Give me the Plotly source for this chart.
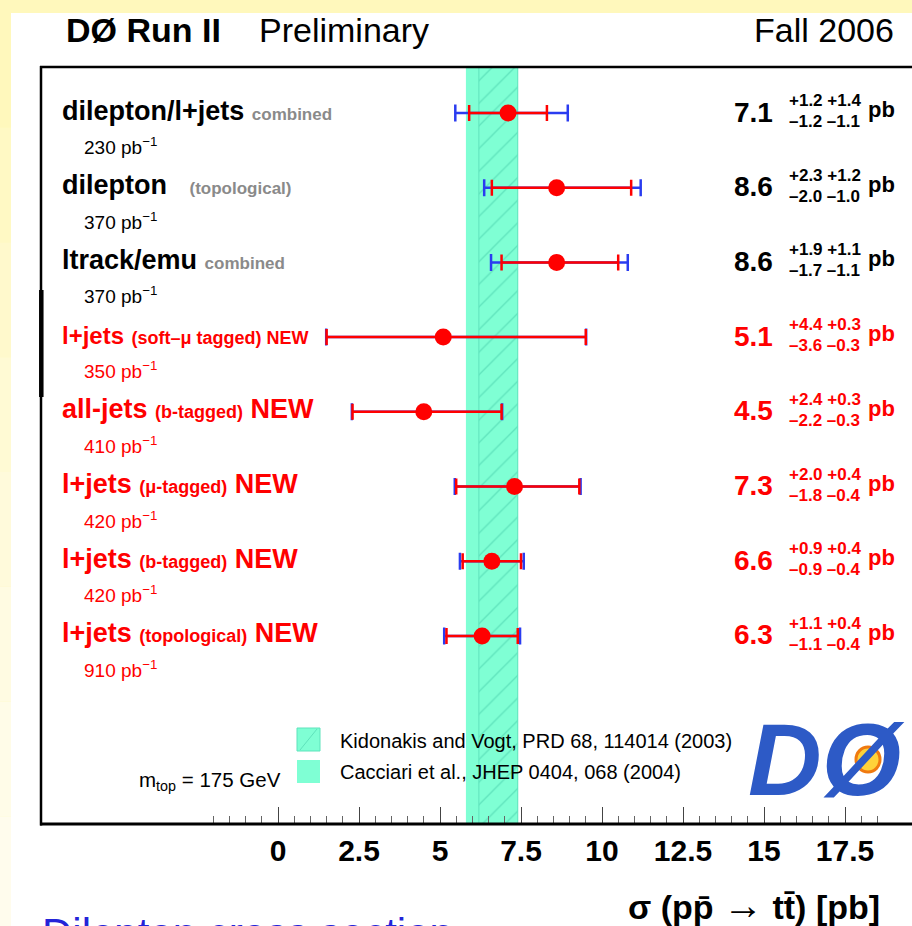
import plotly.graph_objects as go

# ---------------- data ----------------
row_main = ["dilepton/l+jets", "dilepton", "ltrack/emu", "l+jets", "all-jets", "l+jets", "l+jets", "l+jets"]
row_tag = ["combined", "(topological)", "combined", "(soft–μ tagged) NEW", "(b-tagged)", "(μ-tagged)", "(b-tagged)", "(topological)"]
row_new = [False, False, False, False, True, True, True, True]
lumi = [230, 370, 370, 350, 410, 420, 420, 910]
xsec = [7.1, 8.6, 8.6, 5.1, 4.5, 7.3, 6.6, 6.3]
stat_up = [1.2, 2.3, 1.9, 4.4, 2.4, 2.0, 0.9, 1.1]
stat_dn = [1.2, 2.0, 1.7, 3.6, 2.2, 1.8, 0.9, 1.1]
syst_up = [1.4, 1.2, 1.1, 0.3, 0.3, 0.4, 0.4, 0.4]
syst_dn = [1.1, 1.0, 1.1, 0.3, 0.3, 0.4, 0.4, 0.4]

theory_names = ["Kidonakis and Vogt, PRD 68, 114014 (2003)", "Cacciari et al., JHEP 0404, 068 (2004)"]
theory_lo = [6.2, 5.8]
theory_hi = [7.4, 7.4]

tick_vals = [0, 2.5, 5, 7.5, 10, 12.5, 15, 17.5]
tick_text = ["0", "2.5", "5", "7.5", "10", "12.5", "15", "17.5"]
minor_vals = [v * 0.5 for v in range(-4, 38)]

# total uncertainty (stat (+) syst in quadrature)
tot_up = [(a * a + b * b) ** 0.5 for a, b in zip(stat_up, syst_up)]
tot_dn = [(a * a + b * b) ** 0.5 for a, b in zip(stat_dn, syst_dn)]
rows = list(range(len(xsec)))

# ---------------- layout geometry ----------------
W, H = 912, 926
L, T, R, B = 40, 67, 912, 824
FONT = "Liberation Sans, Arial, Helvetica, sans-serif"
AQUA = "#7fffd4"
HATCH = "#5fe3bc"
RED = "#ff0000"
BLUE = "#2a3cf0"

def xp(px):
    return (px - L) / (R - L)

def yp(py):
    return (B - py) / (B - T)

XR = [-(278 - L) / 32.4, (R - 278) / 32.4]
row_px = 74.7
YR = [(B - 113) / row_px, -(113 - T) / row_px]
ycen = (YR[0] + YR[1]) / 2
yspan = YR[0] - YR[1]

fig = go.Figure()

# theory bands (Cacciari solid, Kidonakis hatched on top)
fig.add_trace(go.Bar(
    orientation="h", y=[ycen], width=[yspan],
    base=[theory_lo[1]], x=[theory_hi[1] - theory_lo[1]],
    marker=dict(color=AQUA, line=dict(width=0)),
    showlegend=False, hoverinfo="skip"))
fig.add_trace(go.Bar(
    orientation="h", y=[ycen], width=[yspan],
    base=[theory_lo[0]], x=[theory_hi[0] - theory_lo[0]],
    marker=dict(color=AQUA, line=dict(width=1, color=HATCH),
                pattern=dict(shape="/", fgcolor=HATCH, bgcolor=AQUA,
                             size=16, solidity=0.08, fillmode="replace")),
    showlegend=False, hoverinfo="skip"))

# total error bars (blue)
fig.add_trace(go.Scatter(
    x=xsec, y=rows, mode="markers",
    marker=dict(size=1, color="rgba(0,0,0,0)"),
    error_x=dict(type="data", symmetric=False, array=tot_up, arrayminus=tot_dn,
                 color=BLUE, thickness=2.5, width=8.5),
    showlegend=False, hoverinfo="skip"))
# stat error bars (red) and points
fig.add_trace(go.Scatter(
    x=xsec, y=rows, mode="markers",
    marker=dict(size=17, color=RED, line=dict(width=0)),
    error_x=dict(type="data", symmetric=False, array=stat_up, arrayminus=stat_dn,
                 color=RED, thickness=2.5, width=8),
    showlegend=False, hoverinfo="skip"))

ann = []

def add(text, x, y, xanchor="left", size=18, color="black", yref="paper", yshift=0,
        yanchor="middle"):
    ann.append(dict(text=text, x=x, y=y, xref="paper", yref=yref, xanchor=xanchor,
                    yanchor=yanchor, showarrow=False, yshift=yshift,
                    font=dict(family=FONT, size=size, color=color)))

for i in rows:
    col = "black" if i < 3 else RED
    if i < 3:
        gap = "\u00a0" if i != 1 else "\u00a0\u00a0\u00a0"
        txt = (f"<b>{row_main[i]}</b>{gap}<span style='font-size:17px;color:#8a8a8a'>"
               f"<b>{row_tag[i]}</b></span>")
    elif i == 3:
        txt = (f"<span style='font-size:24px'><b>{row_main[i]}</b></span>\u00a0"
               f"<span style='font-size:18px'><b>{row_tag[i]}</b></span>")
    else:
        txt = (f"<b>{row_main[i]}</b>\u00a0<span style='font-size:18px'><b>{row_tag[i]}</b></span>"
               + ("\u00a0<b>NEW</b>" if row_new[i] else ""))
    add(txt, xp(60), i, size=27, color=col, yref="y", yshift=2.5)
    add(f"{lumi[i]} pb<sup>−1</sup>", xp(82), i, size=19, color=col, yref="y", yshift=-33)
    add(f"<b>{xsec[i]}</b>", xp(775), i, xanchor="right", size=28, color=col, yref="y", yshift=1)
    add(f"<b>+{stat_up[i]} +{syst_up[i]}</b>", xp(787), i, size=17, color=col, yref="y", yshift=12.5)
    add(f"<b>–{stat_dn[i]} –{syst_dn[i]}</b>", xp(787), i, size=17, color=col, yref="y", yshift=-8.5)
    add("<b>pb</b>", xp(866), i, size=22, color=col, yref="y", yshift=3.5)

# header
add("<b>DØ Run II</b>", xp(64), yp(30), size=34)
add("Preliminary", xp(257), yp(30), size=34)
add("Fall 2006", xp(896), yp(30), xanchor="right", size=34)

# legend
add("m<sub>top</sub> = 175 GeV", xp(137), yp(781), size=20.5)
add(theory_names[0], xp(338), yp(741), size=20)
add(theory_names[1], xp(338), yp(772), size=20)

# axis title
add("<b>σ\u00a0(pp̄\u00a0<span style='font-size:40px'>→</span>\u00a0tt̄)\u00a0[pb]</b>",
    xp(882), yp(905), xanchor="right", size=34)

# DØ logo
add("<b><i>DØ</i></b>", xp(746), yp(760), size=102, color="#2d5ac6")

# cut-off slide text at the bottom
add("Dilepton cross section", xp(40), yp(908), size=42, color="#2424d8", yanchor="top")

shapes = []
# slide background (white area)
shapes.append(dict(type="rect", xref="paper", yref="paper", x0=xp(11), x1=xp(W + 5), y0=yp(H + 5), y1=yp(13),
                   fillcolor="white", line=dict(width=0), layer="below"))
# left yellow strip, fading towards the bottom
strip_cols = ["#fff8bc", "#fff9c4", "#fff9cc", "#fffad4", "#fffadb", "#fffbe2", "#fffce8", "#fffced"]
nseg = len(strip_cols)
for k, c in enumerate(strip_cols):
    y_top = 13 + (H + 5 - 13) * k / nseg
    y_bot = 13 + (H + 5 - 13) * (k + 1) / nseg
    shapes.append(dict(type="rect", xref="paper", yref="paper", x0=xp(-2), x1=xp(11),
                       y0=yp(y_bot), y1=yp(y_top), fillcolor=c, line=dict(width=0), layer="below"))
# frame
shapes.append(dict(type="line", xref="paper", yref="paper", x0=xp(40), x1=xp(W + 5), y0=yp(67), y1=yp(67),
                   line=dict(color="black", width=2.5), layer="above"))
shapes.append(dict(type="line", xref="paper", yref="paper", x0=xp(40), x1=xp(W + 5), y0=yp(824), y1=yp(824),
                   line=dict(color="black", width=3), layer="above"))
shapes.append(dict(type="line", xref="paper", yref="paper", x0=xp(41), x1=xp(41), y0=yp(66), y1=yp(825.5),
                   line=dict(color="black", width=2.5), layer="above"))
shapes.append(dict(type="line", xref="paper", yref="paper", x0=xp(41.3), x1=xp(41.3), y0=yp(290), y1=yp(397),
                   line=dict(color="black", width=4.5), layer="above"))
# legend swatches
shapes.append(dict(type="rect", xref="paper", yref="paper", x0=xp(297), x1=xp(320), y0=yp(751), y1=yp(728),
                   fillcolor=AQUA, line=dict(width=1, color=HATCH), layer="above"))
shapes.append(dict(type="line", xref="paper", yref="paper", x0=xp(300), x1=xp(317), y0=yp(750), y1=yp(729),
                   line=dict(width=1, color=HATCH), layer="above"))
shapes.append(dict(type="rect", xref="paper", yref="paper", x0=xp(297), x1=xp(320), y0=yp(783), y1=yp(760),
                   fillcolor=AQUA, line=dict(width=0), layer="above"))
# DØ logo starburst
shapes.append(dict(type="circle", xref="paper", yref="paper", x0=xp(856), x1=xp(880), y0=yp(772), y1=yp(747),
                   fillcolor="#ffd23a", line=dict(width=3, color="#f07a10"), layer="above"))

fig.update_layout(
    width=W, height=H,
    margin=dict(l=L, r=W - R, t=T, b=H - B),
    paper_bgcolor="#fff8bc",
    plot_bgcolor="rgba(0,0,0,0)",
    barmode="overlay",
    showlegend=False,
    annotations=ann,
    shapes=shapes,
    xaxis=dict(range=XR, showgrid=False, zeroline=False, showline=False,
               ticks="inside", ticklen=17, tickwidth=1, tickcolor="#444",
               tickvals=tick_vals, ticktext=tick_text,
               tickfont=dict(family=FONT, size=30, color="black", weight="bold"),
               ticklabelstandoff=6,
               minor=dict(tickvals=minor_vals, ticks="inside", ticklen=8, tickwidth=1, tickcolor="#666")),
    yaxis=dict(range=YR, showgrid=False, zeroline=False, showline=False,
               showticklabels=False, ticks=""),
)

fig.write_html("out.html")
